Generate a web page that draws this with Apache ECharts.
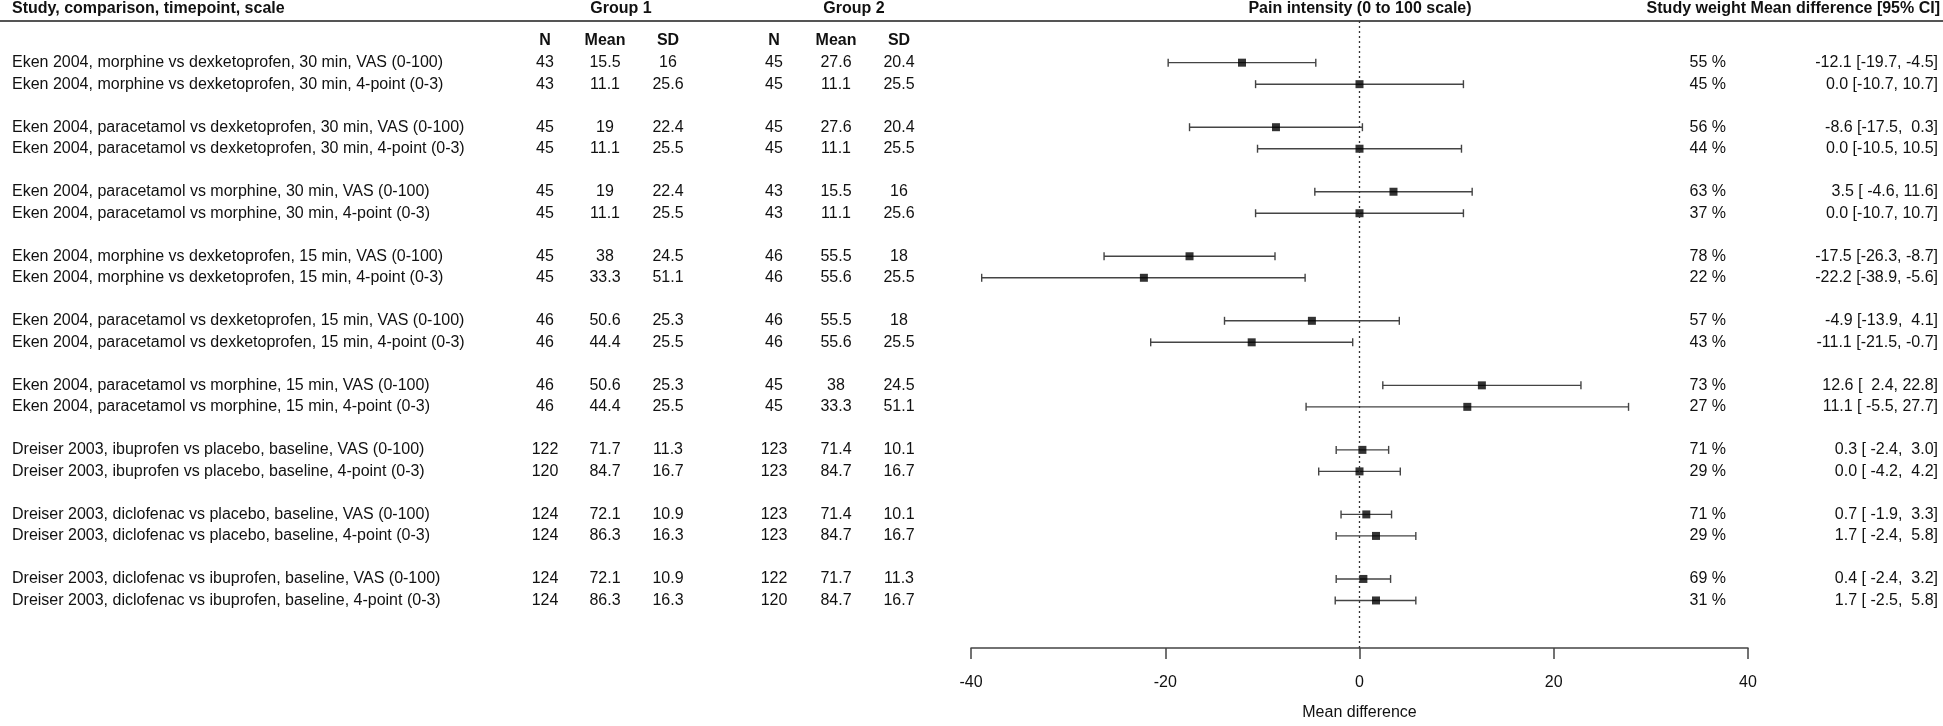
<!DOCTYPE html>
<html>
<head>
<meta charset="utf-8">
<title>Forest plot</title>
<script src="https://cdn.jsdelivr.net/npm/echarts@6/dist/echarts.min.js"></script>
<style>
html, body { margin: 0; padding: 0; background: #fff; }
#chart { width: 1943px; height: 726px; }
</style>
</head>
<body>
<div id="chart"></div>
<script>
const studies = [
    'Eken 2004, morphine vs dexketoprofen, 30 min, VAS (0-100)',
    'Eken 2004, morphine vs dexketoprofen, 30 min, 4-point (0-3)',
    'Eken 2004, paracetamol vs dexketoprofen, 30 min, VAS (0-100)',
    'Eken 2004, paracetamol vs dexketoprofen, 30 min, 4-point (0-3)',
    'Eken 2004, paracetamol vs morphine, 30 min, VAS (0-100)',
    'Eken 2004, paracetamol vs morphine, 30 min, 4-point (0-3)',
    'Eken 2004, morphine vs dexketoprofen, 15 min, VAS (0-100)',
    'Eken 2004, morphine vs dexketoprofen, 15 min, 4-point (0-3)',
    'Eken 2004, paracetamol vs dexketoprofen, 15 min, VAS (0-100)',
    'Eken 2004, paracetamol vs dexketoprofen, 15 min, 4-point (0-3)',
    'Eken 2004, paracetamol vs morphine, 15 min, VAS (0-100)',
    'Eken 2004, paracetamol vs morphine, 15 min, 4-point (0-3)',
    'Dreiser 2003, ibuprofen vs placebo, baseline, VAS (0-100)',
    'Dreiser 2003, ibuprofen vs placebo, baseline, 4-point (0-3)',
    'Dreiser 2003, diclofenac vs placebo, baseline, VAS (0-100)',
    'Dreiser 2003, diclofenac vs placebo, baseline, 4-point (0-3)',
    'Dreiser 2003, diclofenac vs ibuprofen, baseline, VAS (0-100)',
    'Dreiser 2003, diclofenac vs ibuprofen, baseline, 4-point (0-3)'
];
const n1 = [43, 43, 45, 45, 45, 45, 45, 45, 46, 46, 46, 46, 122, 120, 124, 124, 124, 124];
const mean1 = [15.5, 11.1, 19, 11.1, 19, 11.1, 38, 33.3, 50.6, 44.4, 50.6, 44.4, 71.7, 84.7, 72.1, 86.3, 72.1, 86.3];
const sd1 = [16, 25.6, 22.4, 25.5, 22.4, 25.5, 24.5, 51.1, 25.3, 25.5, 25.3, 25.5, 11.3, 16.7, 10.9, 16.3, 10.9, 16.3];
const n2 = [45, 45, 45, 45, 43, 43, 46, 46, 46, 46, 45, 45, 123, 123, 123, 123, 122, 120];
const mean2 = [27.6, 11.1, 27.6, 11.1, 15.5, 11.1, 55.5, 55.6, 55.5, 55.6, 38, 33.3, 71.4, 84.7, 71.4, 84.7, 71.7, 84.7];
const sd2 = [20.4, 25.5, 20.4, 25.5, 16, 25.6, 18, 25.5, 18, 25.5, 24.5, 51.1, 10.1, 16.7, 10.1, 16.7, 11.3, 16.7];
const weights = [55, 45, 56, 44, 63, 37, 78, 22, 57, 43, 73, 27, 71, 29, 71, 29, 69, 31];
const md = [-12.1, 0.0, -8.6, 0.0, 3.5, 0.0, -17.5, -22.2, -4.9, -11.1, 12.6, 11.1, 0.3, 0.0, 0.7, 1.7, 0.4, 1.7];
const ciLow = [-19.7, -10.7, -17.5, -10.5, -4.6, -10.7, -26.3, -38.9, -13.9, -21.5, 2.4, -5.5, -2.4, -4.2, -1.9, -2.4, -2.4, -2.5];
const ciHigh = [-4.5, 10.7, 0.3, 10.5, 11.6, 10.7, -8.7, -5.6, 4.1, -0.7, 22.8, 27.7, 3.0, 4.2, 3.3, 5.8, 3.2, 5.8];
const xTicks = [-40, -20, 0, 20, 40];

// two rows per comparison, then a blank row
const slots = studies.map((s, i) => Math.floor(i / 2) * 3 + (i % 2));

const pad = (s, w) => (' '.repeat(w) + s).slice(-Math.max(w, s.length));
const ciText = md.map((m, i) =>
    m.toFixed(1) + ' [' + pad(ciLow[i].toFixed(1), 5) + ', ' + pad(ciHigh[i].toFixed(1), 4) + ']');

const FONT = '"Liberation Sans", Arial, sans-serif';
const TXT = '#111';
const LINE = '#444';

// column x positions (px)
const colX = { study: 12, n1: 545, mean1: 605, sd1: 668, n2: 774, mean2: 836, sd2: 899, weight: 1726, ci: 1938 };

const chart = echarts.init(document.getElementById('chart'));

const tableRows = studies.map((s, i) => [0, slots[i], i]);

const txt = (x, y, text, align, bold) => ({
    type: 'text',
    x: x, y: y,
    style: {
        text: text, align: align, verticalAlign: 'middle',
        font: (bold ? 'bold ' : '') + '16px ' + FONT, fill: TXT
    }
});

const option = {
    animation: false,
    backgroundColor: '#fff',
    grid: { left: 971, right: 195, top: 21, bottom: 73 },
    xAxis: {
        type: 'value',
        min: -40, max: 40, interval: 20,
        axisLine: { show: true, onZero: false, lineStyle: { color: LINE, width: 1.5 } },
        axisTick: { show: true, length: 11, lineStyle: { color: LINE, width: 1.5 } },
        axisLabel: { margin: 27, fontSize: 16, color: TXT, fontFamily: FONT,
            formatter: v => xTicks.includes(v) ? String(v) : '' },
        splitLine: { show: false },
        name: 'Mean difference',
        nameLocation: 'middle',
        nameGap: 57,
        nameTextStyle: { fontSize: 16, color: TXT, fontFamily: FONT }
    },
    yAxis: {
        type: 'value',
        inverse: true,
        min: -1.937, max: 27.21,
        show: false
    },
    graphic: [
        { type: 'line', shape: { x1: 0, y1: 21, x2: 1943, y2: 21 }, style: { stroke: '#555', lineWidth: 2 } },
        txt(12, 9, 'Study, comparison, timepoint, scale', 'left', true),
        txt(621, 9, 'Group 1', 'center', true),
        txt(854, 9, 'Group 2', 'center', true),
        txt(1360, 9, 'Pain intensity (0 to 100 scale)', 'center', true),
        txt(1940, 9, 'Study weight Mean difference [95% CI]', 'right', true),
        txt(colX.n1, 41, 'N', 'center', true),
        txt(colX.mean1, 41, 'Mean', 'center', true),
        txt(colX.sd1, 41, 'SD', 'center', true),
        txt(colX.n2, 41, 'N', 'center', true),
        txt(colX.mean2, 41, 'Mean', 'center', true),
        txt(colX.sd2, 41, 'SD', 'center', true)
    ],
    series: [
        {
            // table text columns
            type: 'custom',
            clip: false,
            silent: true,
            data: tableRows,
            renderItem: (params, api) => {
                const i = api.value(2);
                const y = api.coord([0, api.value(1)])[1];
                return {
                    type: 'group',
                    children: [
                        txt(colX.study, y, studies[i], 'left'),
                        txt(colX.n1, y, String(n1[i]), 'center'),
                        txt(colX.mean1, y, String(mean1[i]), 'center'),
                        txt(colX.sd1, y, String(sd1[i]), 'center'),
                        txt(colX.n2, y, String(n2[i]), 'center'),
                        txt(colX.mean2, y, String(mean2[i]), 'center'),
                        txt(colX.sd2, y, String(sd2[i]), 'center'),
                        txt(colX.weight, y, weights[i] + ' %', 'right'),
                        txt(colX.ci, y, ciText[i], 'right')
                    ]
                };
            }
        },
        {
            // confidence intervals with end caps
            type: 'custom',
            silent: true,
            data: studies.map((s, i) => [ciLow[i], ciHigh[i], slots[i]]),
            renderItem: (params, api) => {
                const a = api.coord([api.value(0), api.value(2)]);
                const b = api.coord([api.value(1), api.value(2)]);
                const st = { stroke: LINE, lineWidth: 1.4 };
                return {
                    type: 'group',
                    children: [
                        { type: 'line', shape: { x1: a[0], y1: a[1], x2: b[0], y2: b[1] }, style: st },
                        { type: 'line', shape: { x1: a[0], y1: a[1] - 4, x2: a[0], y2: a[1] + 4 }, style: st },
                        { type: 'line', shape: { x1: b[0], y1: b[1] - 4, x2: b[0], y2: b[1] + 4 }, style: st }
                    ]
                };
            }
        },
        {
            type: 'scatter',
            silent: true,
            symbol: 'rect',
            symbolSize: [8, 8],
            itemStyle: { color: '#000' },
            data: md.map((m, i) => [m, slots[i]]),
            markLine: {
                silent: true,
                symbol: 'none',
                label: { show: false },
                lineStyle: { color: '#333', type: [2, 3], width: 1.3 },
                data: [{ xAxis: 0 }]
            }
        }
    ]
};

chart.setOption(option);
window.addEventListener('resize', chart.resize);
</script>
</body>
</html>
